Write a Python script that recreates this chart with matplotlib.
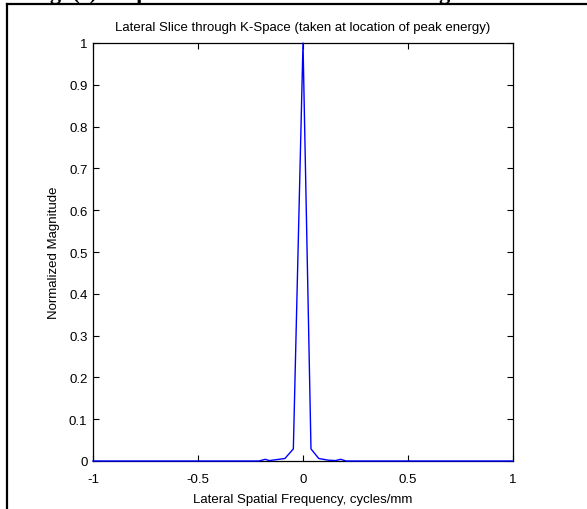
import matplotlib
matplotlib.use("Agg")
import matplotlib.pyplot as plt
from matplotlib.lines import Line2D

plt.rcParams['font.family'] = ['Liberation Sans', 'DejaVu Sans']

# lateral slice through k-space
freq = [-1.0, -0.25, -0.21, -0.18, -0.16, -0.13, -0.086, -0.046, 0.0,
        0.038, 0.075, 0.12, 0.155, 0.18, 0.205, 0.25, 1.0]
magnitude = [0.0, 0.0, 0.0, 0.004, 0.001, 0.003, 0.006, 0.029, 1.0,
             0.029, 0.006, 0.002, 0.001, 0.004, 0.0, 0.0, 0.0]

x_ticks = [-1, -0.5, 0, 0.5, 1]
x_tick_labels = ['-1', '-0.5', '0', '0.5', '1']
y_ticks = [0, 0.1, 0.2, 0.3, 0.4, 0.5, 0.6, 0.7, 0.8, 0.9, 1]
y_tick_labels = ['0', '0.1', '0.2', '0.3', '0.4', '0.5', '0.6', '0.7', '0.8', '0.9', '1']

W, H = 587, 510
fig = plt.figure(figsize=(W / 100, H / 100), dpi=100)

# page-style frame around the figure (cut off from a document)
fig.add_artist(Line2D([7 / W, 7 / W], [0, 1 - 5 / H], color='black', lw=1.6))
fig.add_artist(Line2D([7 / W, 1], [1 - 5 / H, 1 - 5 / H], color='black', lw=1.6))
# caption above, cut off at the top edge like in the reference
fig.text(30 / W, 1 + 1 / H, 'Fig. (c) Amplitude of the Lateral Slice Along',
         family='Liberation Serif', weight='bold', fontsize=16, ha='left', va='baseline')

ax = fig.add_axes([93 / W, 48 / H, 420 / W, 418 / H])
ax.plot(freq, magnitude, color='#0000ff', lw=1.0, clip_on=False, zorder=3)

ax.set_xlim(-1, 1)
ax.set_ylim(0, 1)
ax.set_xticks(x_ticks)
ax.set_xticklabels(x_tick_labels)
ax.set_yticks(y_ticks)
ax.set_yticklabels(y_tick_labels)
ax.tick_params(direction='in', length=4, width=0.8, top=True, right=True,
               labelsize=9.5, colors='black')
ax.tick_params(axis='x', pad=9)
ax.tick_params(axis='y', pad=4)
for s in ax.spines.values():
    s.set_linewidth(0.9)

ax.set_xlabel('Lateral Spatial Frequency, cycles/mm', fontsize=9.5)
ax.xaxis.set_label_coords(0.5, (462 - 500) / 418)
ax.xaxis.label.set_va('center')
ax.set_ylabel('Normalized Magnitude', fontsize=9.5)
ax.yaxis.set_label_coords((54 - 93) / 420, 0.5)
ax.yaxis.label.set_va('center')

fig.text(303 / W, 1 - 28 / H, 'Lateral Slice through K-Space (taken at location of peak energy)',
         fontsize=9.5, ha='center', va='center')

fig.savefig('out.png', dpi=100)
